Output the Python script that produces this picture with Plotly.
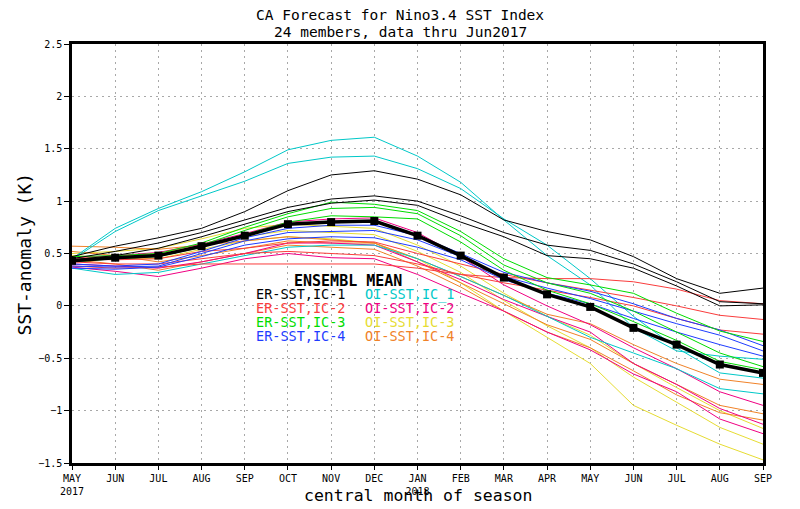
import plotly.graph_objects as go

# ---------------- data ----------------
months = ["MAY", "JUN", "JUL", "AUG", "SEP", "OCT", "NOV", "DEC",
          "JAN", "FEB", "MAR", "APR", "MAY", "JUN", "JUL", "AUG", "SEP"]
tick_labels = ["MAY<br>2017", "JUN", "JUL", "AUG", "SEP", "OCT", "NOV", "DEC",
               "JAN<br>2018", "FEB", "MAR", "APR", "MAY", "JUN", "JUL", "AUG", "SEP"]
y_ticks = [-1.5, -1, -0.5, 0, 0.5, 1, 1.5, 2, 2.5]
y_tick_labels = ["\u22121.5", "\u22121", "\u22120.5", "0", "0.5", "1", "1.5", "2", "2.5"]

# ER-SST, IC-1 (black)
er_ic1 = [
    [0.47, 0.57, 0.65, 0.74, 0.90, 1.10, 1.25, 1.29, 1.21, 1.06, 0.82, 0.71, 0.63, 0.47, 0.26, 0.12, 0.17],
    [0.45, 0.52, 0.60, 0.70, 0.82, 0.94, 1.02, 1.05, 1.00, 0.86, 0.70, 0.58, 0.53, 0.40, 0.23, 0.04, 0.02],
    [0.44, 0.48, 0.55, 0.66, 0.78, 0.90, 0.98, 1.01, 0.96, 0.80, 0.66, 0.48, 0.45, 0.36, 0.19, 0.00, 0.01],
]
# ER-SST, IC-2 (red)
er_ic2 = [
    [0.38, 0.36, 0.37, 0.40, 0.40, 0.40, 0.40, 0.40, 0.36, 0.30, 0.27, 0.26, 0.26, 0.23, 0.16, 0.05, 0.02],
    [0.45, 0.44, 0.45, 0.52, 0.55, 0.60, 0.62, 0.61, 0.50, 0.40, 0.30, 0.22, 0.15, 0.08, 0.00, -0.09, -0.13],
    [0.42, 0.40, 0.40, 0.45, 0.50, 0.52, 0.50, 0.48, 0.40, 0.30, 0.22, 0.15, 0.08, 0.00, -0.12, -0.23, -0.27],
]
# ER-SST, IC-3 (green)
er_ic3 = [
    [0.47, 0.48, 0.50, 0.60, 0.75, 0.88, 0.99, 0.97, 0.91, 0.71, 0.45, 0.27, 0.20, 0.12, -0.07, -0.24, -0.34],
    [0.44, 0.46, 0.48, 0.58, 0.72, 0.85, 0.93, 0.94, 0.88, 0.67, 0.39, 0.22, 0.12, -0.05, -0.25, -0.45, -0.58],
    [0.42, 0.45, 0.47, 0.56, 0.68, 0.80, 0.86, 0.85, 0.83, 0.61, 0.34, 0.15, 0.02, -0.15, -0.33, -0.53, -0.61],
]
# ER-SST, IC-4 (blue)
er_ic4 = [
    [0.40, 0.38, 0.40, 0.52, 0.65, 0.74, 0.77, 0.77, 0.67, 0.50, 0.32, 0.22, 0.14, 0.02, -0.12, -0.23, -0.38],
    [0.38, 0.37, 0.38, 0.50, 0.62, 0.70, 0.71, 0.72, 0.63, 0.47, 0.28, 0.17, 0.07, -0.05, -0.17, -0.28, -0.43],
    [0.36, 0.35, 0.37, 0.47, 0.58, 0.64, 0.66, 0.65, 0.56, 0.44, 0.25, 0.12, 0.02, -0.12, -0.25, -0.37, -0.48],
]
# OI-SST, IC_1 (cyan)
oi_ic1 = [
    [0.45, 0.74, 0.93, 1.09, 1.28, 1.49, 1.58, 1.61, 1.43, 1.18, 0.82, 0.48, 0.20, -0.21, -0.43, -0.48, -0.51],
    [0.44, 0.71, 0.91, 1.05, 1.19, 1.36, 1.42, 1.43, 1.31, 1.12, 0.83, 0.58, 0.26, -0.10, -0.40, -0.64, -0.69],
    [0.36, 0.30, 0.32, 0.40, 0.48, 0.56, 0.58, 0.58, 0.45, 0.28, 0.10, -0.10, -0.30, -0.45, -0.60, -0.79, -0.84],
]
# OI-SST, IC-2 (magenta)
oi_ic2 = [
    [0.46, 0.48, 0.51, 0.59, 0.69, 0.80, 0.83, 0.84, 0.70, 0.47, 0.20, 0.00, -0.18, -0.40, -0.60, -0.82, -0.95],
    [0.37, 0.33, 0.28, 0.36, 0.45, 0.50, 0.46, 0.45, 0.30, 0.12, -0.05, -0.25, -0.42, -0.65, -0.82, -1.08, -1.22],
    [0.40, 0.38, 0.36, 0.42, 0.50, 0.60, 0.60, 0.58, 0.42, 0.25, 0.06, -0.10, -0.25, -0.55, -0.75, -0.98, -1.13],
]
# OI-SST, IC-3 (yellow)
oi_ic3 = [
    [0.50, 0.52, 0.55, 0.64, 0.74, 0.78, 0.76, 0.74, 0.58, 0.38, 0.12, -0.10, -0.28, -0.55, -0.78, -1.00, -1.17],
    [0.46, 0.47, 0.50, 0.58, 0.66, 0.72, 0.70, 0.68, 0.52, 0.32, 0.05, -0.19, -0.40, -0.68, -0.92, -1.16, -1.32],
    [0.48, 0.46, 0.45, 0.54, 0.62, 0.66, 0.64, 0.60, 0.45, 0.22, -0.05, -0.30, -0.55, -0.95, -1.14, -1.32, -1.47],
]
# OI-SST, IC-4 (orange)
oi_ic4 = [
    [0.57, 0.56, 0.54, 0.58, 0.62, 0.66, 0.63, 0.60, 0.45, 0.28, 0.10, -0.08, -0.17, -0.37, -0.55, -0.70, -0.75],
    [0.52, 0.48, 0.42, 0.48, 0.55, 0.62, 0.60, 0.60, 0.42, 0.22, 0.02, -0.18, -0.32, -0.55, -0.75, -0.95, -1.03],
    [0.44, 0.40, 0.34, 0.42, 0.50, 0.58, 0.56, 0.54, 0.38, 0.18, -0.05, -0.25, -0.40, -0.62, -0.85, -1.02, -1.09],
]
# ensemble mean
ens_mean = [0.43, 0.46, 0.48, 0.57, 0.67, 0.78, 0.80, 0.81, 0.67, 0.48, 0.27, 0.11, -0.01, -0.21, -0.37, -0.56, -0.64]

groups = [
    ("ER-SST,IC-1", er_ic1, "#000000"),
    ("ER-SST,IC-2", er_ic2, "#fa3c3c"),
    ("ER-SST,IC-3", er_ic3, "#00dc00"),
    ("ER-SST,IC-4", er_ic4, "#1e3cff"),
    ("OI-SST,IC_1", oi_ic1, "#00c8c8"),
    ("OI-SST,IC-2", oi_ic2, "#f00082"),
    ("OI-SST,IC-3", oi_ic3, "#e6dc32"),
    ("OI-SST,IC-4", oi_ic4, "#f08228"),
]

x = list(range(len(months)))
fig = go.Figure()

draw_order = [6, 7, 5, 4, 1, 3, 2, 0]
for gi in draw_order:
    name, members, color = groups[gi]
    for m in members:
        fig.add_trace(go.Scatter(x=x, y=m, mode="lines",
                                 line=dict(color=color, width=1),
                                 showlegend=False, hoverinfo="skip"))

fig.add_trace(go.Scatter(x=x, y=ens_mean, mode="lines+markers",
                         line=dict(color="black", width=3.5),
                         marker=dict(symbol="square", size=8, color="black"),
                         showlegend=False, name="ENSEMBL MEAN"))

# ---------------- layout ----------------
# target screen positions of the plot area (page body has an 8px margin)
OFF = 8
L, R, T, B = 72, 763, 44, 466
W, H = 800 - OFF, 509 - OFF
mono = "DejaVu Sans Mono"

def px(xp):
    return (xp - L) / (R - L)

def py(yp):
    return (B - yp) / (B - T)

ann = []
ann.append(dict(text="CA Forecast for Nino3.4 SST Index", x=px(400), y=py(15),
                xref="paper", yref="paper", showarrow=False,
                xanchor="center", yanchor="middle",
                font=dict(family=mono, size=14.5, color="black")))
ann.append(dict(text="24 members, data thru Jun2017", x=px(400), y=py(32),
                xref="paper", yref="paper", showarrow=False,
                xanchor="center", yanchor="middle",
                font=dict(family=mono, size=14.5, color="black")))
ann.append(dict(text="SST-anomaly (K)", x=px(24), y=py(256), textangle=-90,
                xref="paper", yref="paper", showarrow=False,
                xanchor="center", yanchor="middle",
                font=dict(family=mono, size=18, color="black")))
ann.append(dict(text="central month of season", x=px(418), y=py(509),
                xref="paper", yref="paper", showarrow=False,
                xanchor="center", yanchor="bottom", borderpad=0,
                font=dict(family=mono, size=16.5, color="black")))
ann.append(dict(text="<b>ENSEMBL MEAN</b>", x=px(348), y=py(283),
                xref="paper", yref="paper", showarrow=False,
                xanchor="center", yanchor="middle",
                font=dict(family=mono, size=15, color="black")))
row_y = [296, 310, 324, 338]
for i in range(4):
    nm, _, col = groups[i]
    ann.append(dict(text=nm, x=px(255), y=py(row_y[i]), xref="paper", yref="paper",
                    showarrow=False, xanchor="left", yanchor="middle", borderpad=0,
                    font=dict(family=mono, size=13.5, color=col)))
    nm, _, col = groups[i + 4]
    ann.append(dict(text=nm, x=px(364), y=py(row_y[i]), xref="paper", yref="paper",
                    showarrow=False, xanchor="left", yanchor="middle", borderpad=0,
                    font=dict(family=mono, size=13.5, color=col)))

fig.update_layout(
    width=W, height=H,
    margin=dict(l=L - OFF, r=800 - R, t=T - OFF, b=509 - B, pad=0),
    paper_bgcolor="white", plot_bgcolor="white",
    annotations=ann,
    showlegend=False,
)
fig.update_xaxes(range=[0, len(months) - 1], tickvals=x, ticktext=tick_labels,
                 tickangle=0,
                 showgrid=True, gridcolor="#a8a8a8", griddash="2px,4px", gridwidth=1,
                 showline=True, linecolor="black", linewidth=2.5, mirror=True,
                 ticks="outside", ticklen=4, tickcolor="black",
                 tickfont=dict(family=mono, size=10, color="black"), zeroline=False)
fig.update_yaxes(range=[-1.5, 2.5], tickvals=y_ticks, ticktext=y_tick_labels,
                 showgrid=True, gridcolor="#a8a8a8", griddash="2px,4px", gridwidth=1,
                 showline=True, linecolor="black", linewidth=2.5, mirror=True,
                 ticks="outside", ticklen=5, tickcolor="black",
                 tickfont=dict(family=mono, size=10, color="black"), zeroline=False)

fig.write_html("out.html")
